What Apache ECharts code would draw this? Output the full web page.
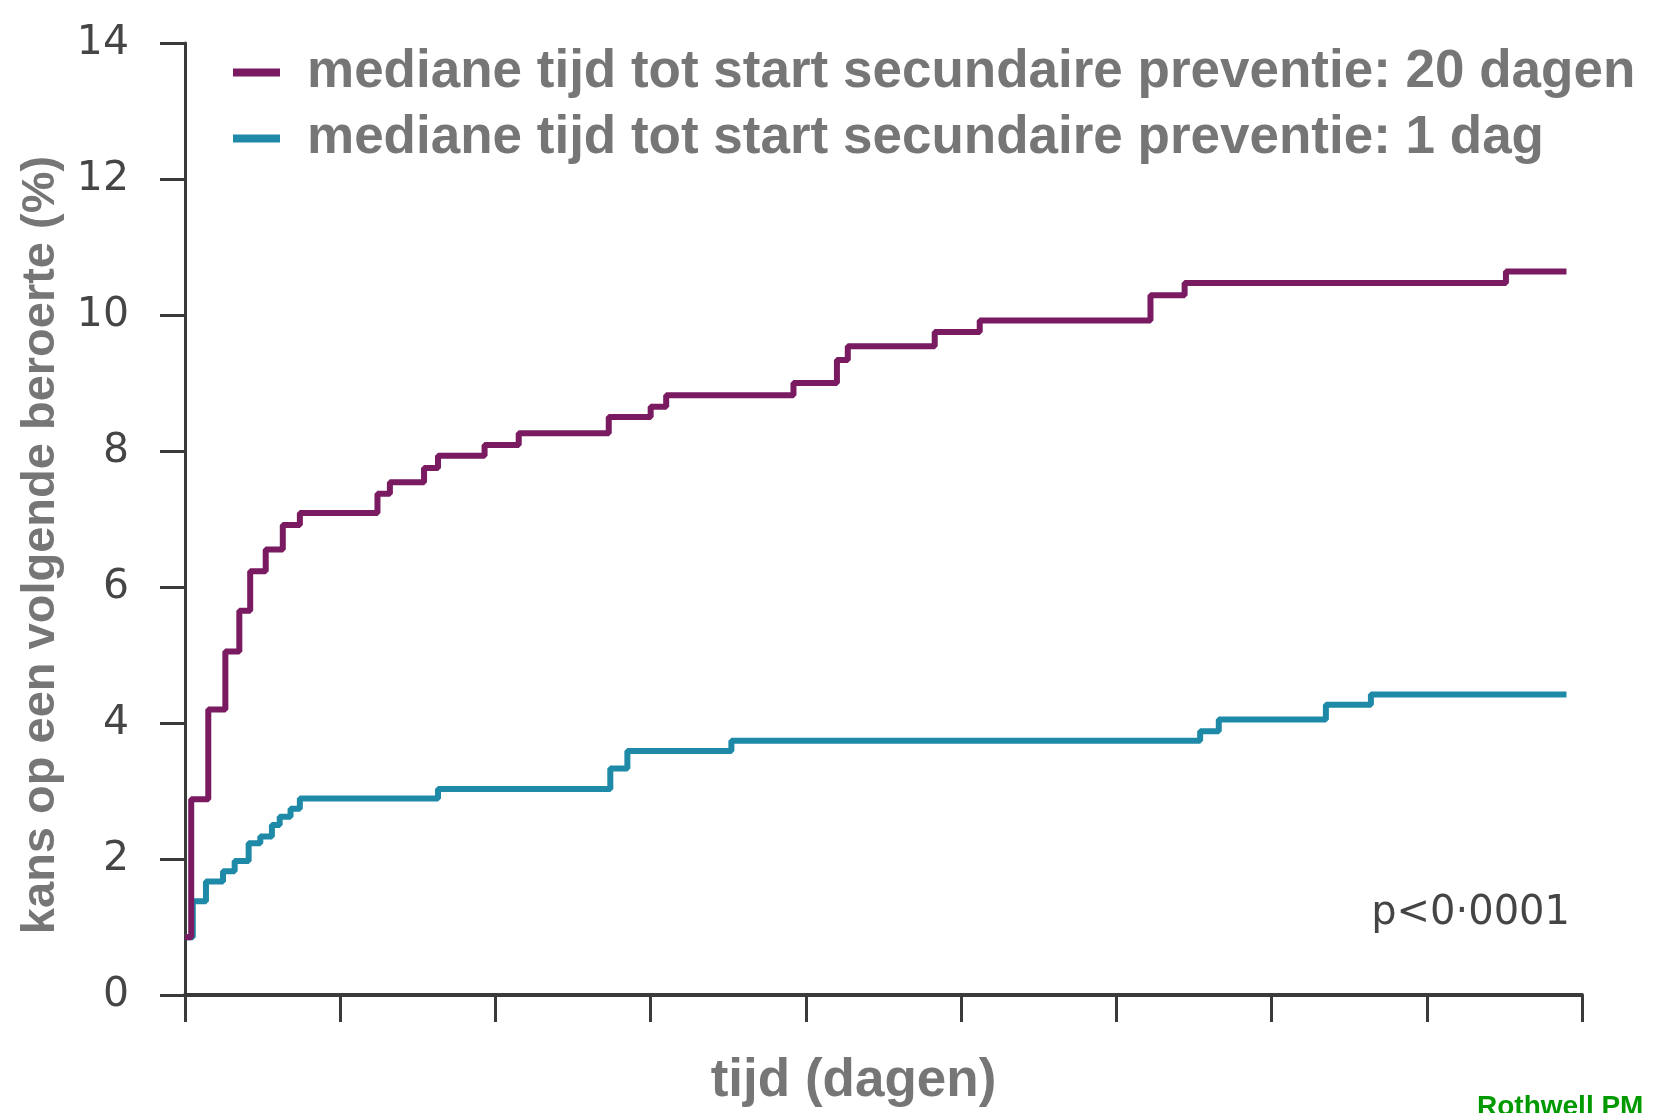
<!DOCTYPE html>
<html>
<head>
<meta charset="utf-8">
<script src="https://cdn.jsdelivr.net/npm/echarts@6/dist/echarts.min.js"></script>
<style>
html,body{margin:0;padding:0;background:#fff;}
#chart{width:1657px;height:1113px;}
</style>
</head>
<body>
<div id="chart"></div>
<script>
// Series names
const seriesNames = [
  'mediane tijd tot start secundaire preventie: 20 dagen',
  'mediane tijd tot start secundaire preventie: 1 dag'
];
// Purple curve (20 days): [day, cumulative risk %]
const late = [
  [0, 0.85], [0.4, 2.88], [1.5, 4.2], [2.6, 5.05], [3.5, 5.65], [4.2, 6.23],
  [5.2, 6.55], [6.3, 6.91], [7.4, 7.09], [12.4, 7.37], [13.2, 7.54], [15.4, 7.75],
  [16.3, 7.93], [19.3, 8.09], [21.5, 8.26], [27.3, 8.5], [30.0, 8.65], [31.0, 8.82],
  [39.2, 9.0], [42.0, 9.34], [42.7, 9.54], [48.3, 9.75], [51.2, 9.92], [62.2, 10.29],
  [64.4, 10.47], [85.1, 10.64], [89.0, 10.64]
];
// Teal curve (1 day)
const early = [
  [0, 0.85], [0.5, 1.38], [1.35, 1.67], [2.45, 1.82], [3.2, 1.97], [4.1, 2.23],
  [4.85, 2.33], [5.6, 2.5], [6.1, 2.62], [6.8, 2.74], [7.4, 2.89], [16.3, 3.03],
  [27.4, 3.33], [28.5, 3.59], [35.2, 3.74], [65.4, 3.88], [66.6, 4.05], [73.5, 4.27],
  [76.4, 4.42], [89.0, 4.42]
];
const xTicks = [0, 90, 10];   // min, max, interval (no labels shown)
const yTicks = [0, 14, 2];
const pText = 'p<0·0001';
const sourceText = 'Rothwell PM';

const chart = echarts.init(document.getElementById('chart'), null, {renderer: 'canvas'});
const axisColor = '#3a3a3a';
chart.setOption({
  backgroundColor: '#ffffff',
  animation: false,
  grid: {left: 185, right: 75, top: 43, bottom: 107},
  legend: {
    orient: 'vertical',
    left: 233, top: 46,
    padding: 0,
    itemGap: 13,
    itemWidth: 47, itemHeight: 8,
    icon: 'rect',
    data: seriesNames,
    textStyle: {
      fontFamily: 'Liberation Sans, Arial, sans-serif',
      fontWeight: 'bold', fontSize: 53, color: '#767676',
      padding: [0, 0, 0, 22]
    }
  },
  xAxis: {
    type: 'value',
    min: xTicks[0], max: xTicks[1], interval: xTicks[2],
    name: 'tijd (dagen)',
    nameLocation: 'middle',
    nameGap: 60,
    nameTextStyle: {
      fontFamily: 'Liberation Sans, Arial, sans-serif',
      fontWeight: 'bold', fontSize: 53, color: '#767676',
      padding: [0, 60, 0, 0]
    },
    axisLine: {lineStyle: {color: axisColor, width: 4}},
    axisTick: {show: true, length: 27, lineStyle: {color: axisColor, width: 3}},
    axisLabel: {show: false},
    splitLine: {show: false}
  },
  yAxis: {
    type: 'value',
    min: yTicks[0], max: yTicks[1], interval: yTicks[2],
    name: 'kans op een volgende beroerte (%)',
    nameLocation: 'middle',
    nameGap: 120,
    nameTextStyle: {
      fontFamily: 'Liberation Sans, Arial, sans-serif',
      fontWeight: 'bold', fontSize: 47, color: '#767676',
      padding: [0, 52, 0, 0]
    },
    axisLine: {show: true, lineStyle: {color: axisColor, width: 3}},
    axisTick: {show: true, length: 25, lineStyle: {color: axisColor, width: 3}},
    axisLabel: {
      margin: 56,
      fontFamily: 'DejaVu Sans, sans-serif',
      fontSize: 41, color: '#454545'
    },
    splitLine: {show: false}
  },
  series: [
    {
      name: seriesNames[1], type: 'line', step: 'end', showSymbol: false, symbol: 'none',
      data: early, z: 2,
      lineStyle: {color: '#1f8aa8', width: 6},
      itemStyle: {color: '#1f8aa8'}
    },
    {
      name: seriesNames[0], type: 'line', step: 'end', showSymbol: false, symbol: 'none',
      data: late, z: 3,
      lineStyle: {color: '#7a1b62', width: 6},
      itemStyle: {color: '#7a1b62'}
    }
  ],
  graphic: [
    {
      type: 'text', right: 87, top: 894,
      style: {text: pText, font: '40px "DejaVu Sans", sans-serif', fill: '#454545'}
    },
    {
      type: 'text', left: 1477, top: 1093,
      style: {text: sourceText, font: 'bold 28px "Liberation Sans", Arial, sans-serif', fill: '#009a00'}
    }
  ]
});
</script>
</body>
</html>
